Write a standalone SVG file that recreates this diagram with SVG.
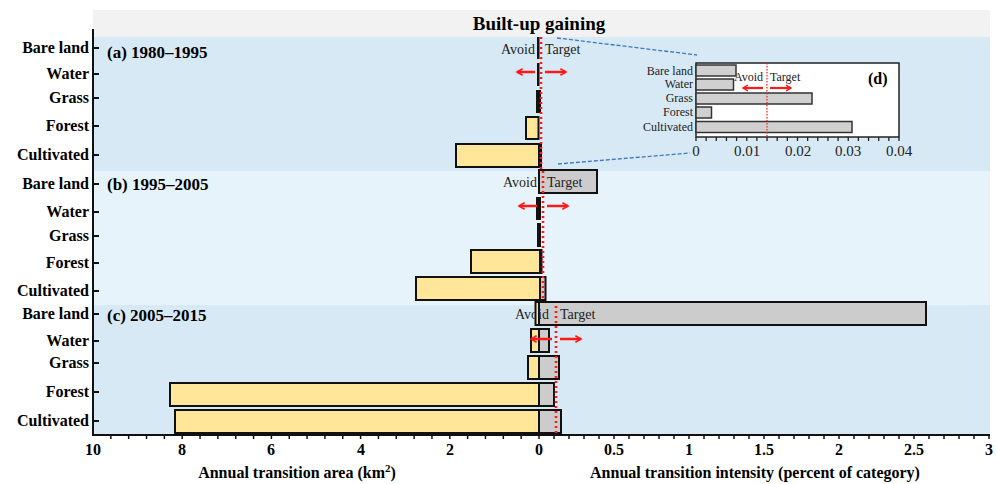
<svg xmlns="http://www.w3.org/2000/svg" width="997" height="484" viewBox="0 0 997 484">
  <style>
    .lab { font-family: "Liberation Serif", "Times New Roman", serif; font-weight: bold; font-size: 16px; fill: #000; }
    .title { font-size: 19px; text-anchor: middle; }
    .plab { font-size: 17px; }
    .ylab { text-anchor: end; }
    .tick { text-anchor: middle; }
    .note { font-family: "Liberation Serif", "Times New Roman", serif; font-size: 14px; fill: #222; }
    .small { font-family: "Liberation Serif", "Times New Roman", serif; font-size: 12px; fill: #222; }
    .inTick { font-family: "Liberation Serif", "Times New Roman", serif; font-size: 15px; fill: #222; text-anchor: middle; }
    .loss { fill: #ffe699; stroke: #111; stroke-width: 2; }
    .gain { fill: #cccccc; stroke: #111; stroke-width: 2; }
    .thin { fill: #111; }
    .ibar { fill: #d0d0d0; stroke: #333; stroke-width: 1.5; }
    .uni { stroke: #ff1a1a; stroke-width: 2.6; stroke-dasharray: 2 3; fill: none; }
    .arr { stroke: #ff1a1a; stroke-width: 2.5; fill: none; marker-end: url(#head); }
    .arrS { stroke-width: 2.2; }
    .zoomln { stroke: #3a78c9; stroke-width: 1.3; stroke-dasharray: 4 2; fill: none; }
  </style>
  <defs>
    <marker id="head" viewBox="0 0 10 10" refX="8" refY="5" markerWidth="3.2" markerHeight="3.2" orient="auto" markerUnits="strokeWidth">
      <path d="M1,1 L8,5 L1,9" fill="none" stroke="#ff1a1a" stroke-width="2"/>
    </marker>
  </defs>

  <rect width="997" height="484" fill="#ffffff"/>

  <!-- title band and panel backgrounds -->
  <rect x="93" y="10" width="897" height="27" fill="#f2f2f2"/>
  <rect x="93" y="37" width="897" height="134" fill="#d7e9f5"/>
  <rect x="93" y="171" width="897" height="134" fill="#e6f3fa"/>
  <rect x="93" y="305" width="897" height="129" fill="#d7e9f5"/>
  <text class="lab title" x="539" y="30">Built-up gaining</text>

  <!-- zoom guide lines to inset -->
  <g id="zoom-guides">
    <path class="zoomln" d="M557,38 L697,55"/>
    <path class="zoomln" d="M558,164 L690,153"/>
  </g>

  <!-- panel (a) 1980–1995 -->
  <g id="panel-a">
    <text class="lab plab" x="107" y="58">(a) 1980–1995</text>
    <rect class="gain" x="539" y="144" width="2" height="23"/>
    <text class="note" x="535" y="54" text-anchor="end">Avoid</text>
    <text class="note" x="545" y="54">Target</text>
    <rect class="thin" x="537" y="37" width="2.5" height="22"/>
    <rect class="thin" x="537" y="63" width="2.5" height="23"/>
    <rect class="thin" x="536" y="90" width="5" height="23"/>
    <rect class="loss" x="526" y="117" width="12.5" height="22"/>
    <rect class="loss" x="456" y="144" width="83" height="23"/>
    <path class="uni" d="M541,37 V171"/>
    <path class="arr" d="M535,72 H517"/>
    <path class="arr" d="M545,72 H566"/>
  </g>

  <!-- panel (b) 1995–2005 -->
  <g id="panel-b">
    <text class="lab plab" x="107" y="190">(b) 1995–2005</text>
    <rect class="gain" x="539" y="170" width="58" height="23"/>
    <rect class="gain" x="539" y="250" width="2.5" height="23"/>
    <rect class="gain" x="539" y="277" width="6.5" height="23"/>
    <text class="note" x="537" y="187" text-anchor="end">Avoid</text>
    <text class="note" x="547" y="187">Target</text>
    <rect class="thin" x="536" y="197" width="5" height="23"/>
    <rect class="thin" x="537" y="223" width="4" height="24"/>
    <rect class="loss" x="471" y="250" width="69" height="23"/>
    <rect class="loss" x="416" y="277" width="124" height="23"/>
    <path class="uni" d="M543,171 V305"/>
    <path class="arr" d="M537,206 H519"/>
    <path class="arr" d="M547,206 H568"/>
  </g>

  <!-- panel (c) 2005–2015 -->
  <g id="panel-c">
    <text class="lab plab" x="107" y="321">(c) 2005–2015</text>
    <rect class="gain" x="539" y="302" width="387" height="23"/>
    <rect class="gain" x="539" y="329" width="10" height="23"/>
    <rect class="gain" x="539" y="356" width="20" height="23"/>
    <rect class="gain" x="539" y="383" width="15" height="23"/>
    <rect class="gain" x="539" y="410" width="22" height="23"/>
    <text class="note" x="549" y="319" text-anchor="end">Avoid</text>
    <text class="note" x="560" y="319">Target</text>
    <rect class="loss" x="535.5" y="302" width="3.5" height="23"/>
    <rect class="loss" x="531" y="329" width="8" height="23"/>
    <rect class="loss" x="528" y="356" width="11" height="23"/>
    <rect class="loss" x="170" y="383" width="369" height="23"/>
    <rect class="loss" x="175" y="410" width="364" height="23"/>
    <path class="uni" d="M556,306 V434"/>
    <path class="arr" d="M552,339 H531"/>
    <path class="arr" d="M560,339 H581"/>
  </g>

  <!-- inset (d): intensity close-up for 1980–1995 -->
  <g id="inset-d">
    <rect x="696" y="63" width="203" height="74" fill="#ffffff" stroke="#222" stroke-width="1.5"/>
    <rect class="ibar" x="696" y="65" width="40" height="11"/>
    <rect class="ibar" x="696" y="79" width="37.5" height="11"/>
    <rect class="ibar" x="696" y="93" width="116" height="11"/>
    <rect class="ibar" x="696" y="107" width="15.5" height="11"/>
    <rect class="ibar" x="696" y="121.5" width="156" height="11"/>
    <path d="M767,63 V137" stroke="#ff1a1a" stroke-width="1.2" stroke-dasharray="1.5 1.5"/>
    <text class="small" x="763" y="81" text-anchor="end">Avoid</text>
    <text class="small" x="770" y="81">Target</text>
    <path class="arr arrS" d="M763,88 H743"/>
    <path class="arr arrS" d="M770,88 H791"/>
    <text class="lab" x="868" y="84">(d)</text>
    <g class="small" text-anchor="end">
      <text x="693" y="75">Bare land</text>
      <text x="693" y="88">Water</text>
      <text x="693" y="102">Grass</text>
      <text x="693" y="116">Forest</text>
      <text x="693" y="131">Cultivated</text>
    </g>
    <path d="M696,137 v4 M706.15,137 v4 M716.3,137 v4 M726.45,137 v4 M736.6,137 v4 M746.75,137 v4 M756.9,137 v4 M767.05,137 v4 M777.2,137 v4 M787.35,137 v4 M797.5,137 v4 M807.65,137 v4 M817.8,137 v4 M827.95,137 v4 M838.1,137 v4 M848.25,137 v4 M858.4,137 v4 M868.55,137 v4 M878.7,137 v4 M888.85,137 v4 M899,137 v4" stroke="#222" stroke-width="1.3"/>
    <text class="inTick" x="696" y="156">0</text>
    <text class="inTick" x="747" y="156">0.01</text>
    <text class="inTick" x="798" y="156">0.02</text>
    <text class="inTick" x="848" y="156">0.03</text>
    <text class="inTick" x="899" y="156">0.04</text>
  </g>

  <!-- axes -->
  <g id="axes">
    <path d="M93,29 V435 H990" stroke="#111" stroke-width="2" fill="none"/>
    <!-- category ticks -->
    <path d="M93,48 h6 M93,74 h6 M93,98 h6 M93,126 h6 M93,155 h6 M93,184 h6 M93,212 h6 M93,236 h6 M93,263 h6 M93,291 h6 M93,314 h6 M93,341 h6 M93,363 h6 M93,392 h6 M93,421 h6" stroke="#111" stroke-width="2"/>
    <!-- area axis ticks (0.4 km2 steps) -->
    <path d="M110.84,435 v4 M128.68,435 v4 M146.52,435 v4 M164.36,435 v4 M182.2,435 v4 M200.04,435 v4 M217.88,435 v4 M235.72,435 v4 M253.56,435 v4 M271.4,435 v4 M289.24,435 v4 M307.08,435 v4 M324.92,435 v4 M342.76,435 v4 M360.6,435 v4 M378.44,435 v4 M396.28,435 v4 M414.12,435 v4 M431.96,435 v4 M449.8,435 v4 M467.64,435 v4 M485.48,435 v4 M503.32,435 v4 M521.16,435 v4 M539,435 v4" stroke="#111" stroke-width="1.5"/>
    <!-- intensity axis ticks (0.1 steps) -->
    <path d="M554,435 v4 M569,435 v4 M584,435 v4 M599,435 v4 M614,435 v4 M629,435 v4 M644,435 v4 M659,435 v4 M674,435 v4 M689,435 v4 M704,435 v4 M719,435 v4 M734,435 v4 M749,435 v4 M764,435 v4 M779,435 v4 M794,435 v4 M809,435 v4 M824,435 v4 M839,435 v4 M854,435 v4 M869,435 v4 M884,435 v4 M899,435 v4 M914,435 v4 M929,435 v4 M944,435 v4 M959,435 v4 M974,435 v4 M989,435 v4" stroke="#111" stroke-width="1.5"/>
    <g class="lab ylab">
      <text x="89" y="53">Bare land</text>
      <text x="89" y="79">Water</text>
      <text x="89" y="103">Grass</text>
      <text x="89" y="131">Forest</text>
      <text x="89" y="160">Cultivated</text>
      <text x="89" y="189">Bare land</text>
      <text x="89" y="217">Water</text>
      <text x="89" y="241">Grass</text>
      <text x="89" y="268">Forest</text>
      <text x="89" y="296">Cultivated</text>
      <text x="89" y="319">Bare land</text>
      <text x="89" y="346">Water</text>
      <text x="89" y="368">Grass</text>
      <text x="89" y="397">Forest</text>
      <text x="89" y="426">Cultivated</text>
    </g>
    <g class="lab tick">
      <text x="93" y="455">10</text>
      <text x="182" y="455">8</text>
      <text x="271" y="455">6</text>
      <text x="361" y="455">4</text>
      <text x="450" y="455">2</text>
      <text x="539" y="455">0</text>
      <text x="614" y="455">0.5</text>
      <text x="689" y="455">1</text>
      <text x="764" y="455">1.5</text>
      <text x="839" y="455">2</text>
      <text x="914" y="455">2.5</text>
      <text x="989" y="455">3</text>
    </g>
    <text class="lab" x="297" y="478" text-anchor="middle">Annual transition area (km<tspan font-size="11" dy="-6">2</tspan><tspan dy="6">)</tspan></text>
    <text class="lab" x="755" y="478" text-anchor="middle">Annual transition intensity (percent of category)</text>
  </g>
</svg>
